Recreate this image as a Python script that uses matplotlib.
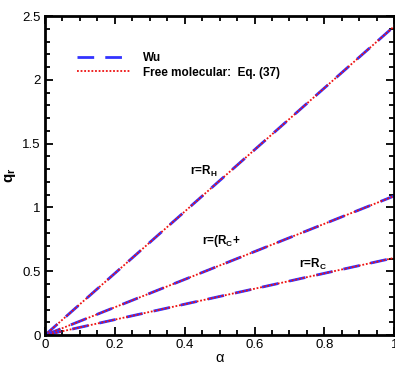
import matplotlib
matplotlib.use("Agg")
import matplotlib.pyplot as plt
from matplotlib.ticker import MultipleLocator

plt.rcParams['font.family'] = ['Liberation Sans', 'DejaVu Sans']
plt.rcParams['mathtext.fontset'] = 'custom'
plt.rcParams['mathtext.rm'] = 'Liberation Sans'
plt.rcParams['mathtext.bf'] = 'Liberation Sans:bold'

alpha = [0.0, 0.1, 0.2, 0.3, 0.4, 0.5, 0.6, 0.7, 0.8, 0.9, 1.0]
q_RH = [0.0, 0.242, 0.484, 0.726, 0.968, 1.21, 1.452, 1.694, 1.936, 2.178, 2.42]
q_RCp = [0.0, 0.109, 0.218, 0.327, 0.436, 0.545, 0.654, 0.763, 0.872, 0.981, 1.09]
q_RC = [0.0, 0.0605, 0.121, 0.1815, 0.242, 0.3025, 0.363, 0.4235, 0.484, 0.5445, 0.605]

fig = plt.figure(figsize=(3.95, 3.65), dpi=100)
ax = fig.add_axes([0.114, 0.082, 0.884, 0.874])

for i, q in enumerate([q_RH, q_RCp, q_RC]):
    ax.plot(alpha, q, color='#3333ff', lw=2.0, dashes=(6, 4),
            label='Wu' if i == 0 else None)
    ax.plot(alpha, q, color='#ee1111', lw=1.3, ls=(0, (1, 1)),
            label='Free molecular:  Eq. (37)' if i == 0 else None)

ax.set_xlim(0, 1)
ax.set_ylim(0, 2.5)
ax.xaxis.set_major_locator(MultipleLocator(0.2))
ax.xaxis.set_minor_locator(MultipleLocator(0.05))
ax.yaxis.set_major_locator(MultipleLocator(0.5))
ax.yaxis.set_minor_locator(MultipleLocator(0.1))
ax.set_xticks([0, 0.2, 0.4, 0.6, 0.8, 1.0])
ax.set_xticklabels(['0', '0.2', '0.4', '0.6', '0.8', '1'])
ax.set_yticks([0, 0.5, 1.0, 1.5, 2.0, 2.5])
ax.set_yticklabels(['0', '0.5', '1', '1.5', '2', '2.5'])
ax.tick_params(which='both', direction='in', top=True, right=True,
               labelsize=9.5, width=1.3, pad=3)
ax.tick_params(which='major', length=6)
ax.tick_params(which='minor', length=3.5)
for s in ax.spines.values():
    s.set_linewidth(2.0)

ax.set_xlabel('α', fontsize=10.5, labelpad=0)
ax.set_ylabel('$\\mathbf{q}_\\mathbf{r}$', fontsize=11, labelpad=3)

leg = ax.legend(loc='upper left', bbox_to_anchor=(0.06, 0.92), frameon=False,
                handlelength=4.6, handletextpad=1.0, labelspacing=0.2,
                prop={'weight': 'bold', 'size': 8.5})

tk = dict(fontsize=8.5, fontweight='bold', va='center', ha='left')
ax.text(0.415, 1.28, 'r=R$_\\mathregular{H}$', **tk)
ax.text(0.45, 0.74, 'r=(R$_\\mathregular{C}$+', **tk)
ax.text(0.727, 0.55, 'r=R$_\\mathregular{C}$', **tk)

fig.savefig('out.png', dpi=100)
